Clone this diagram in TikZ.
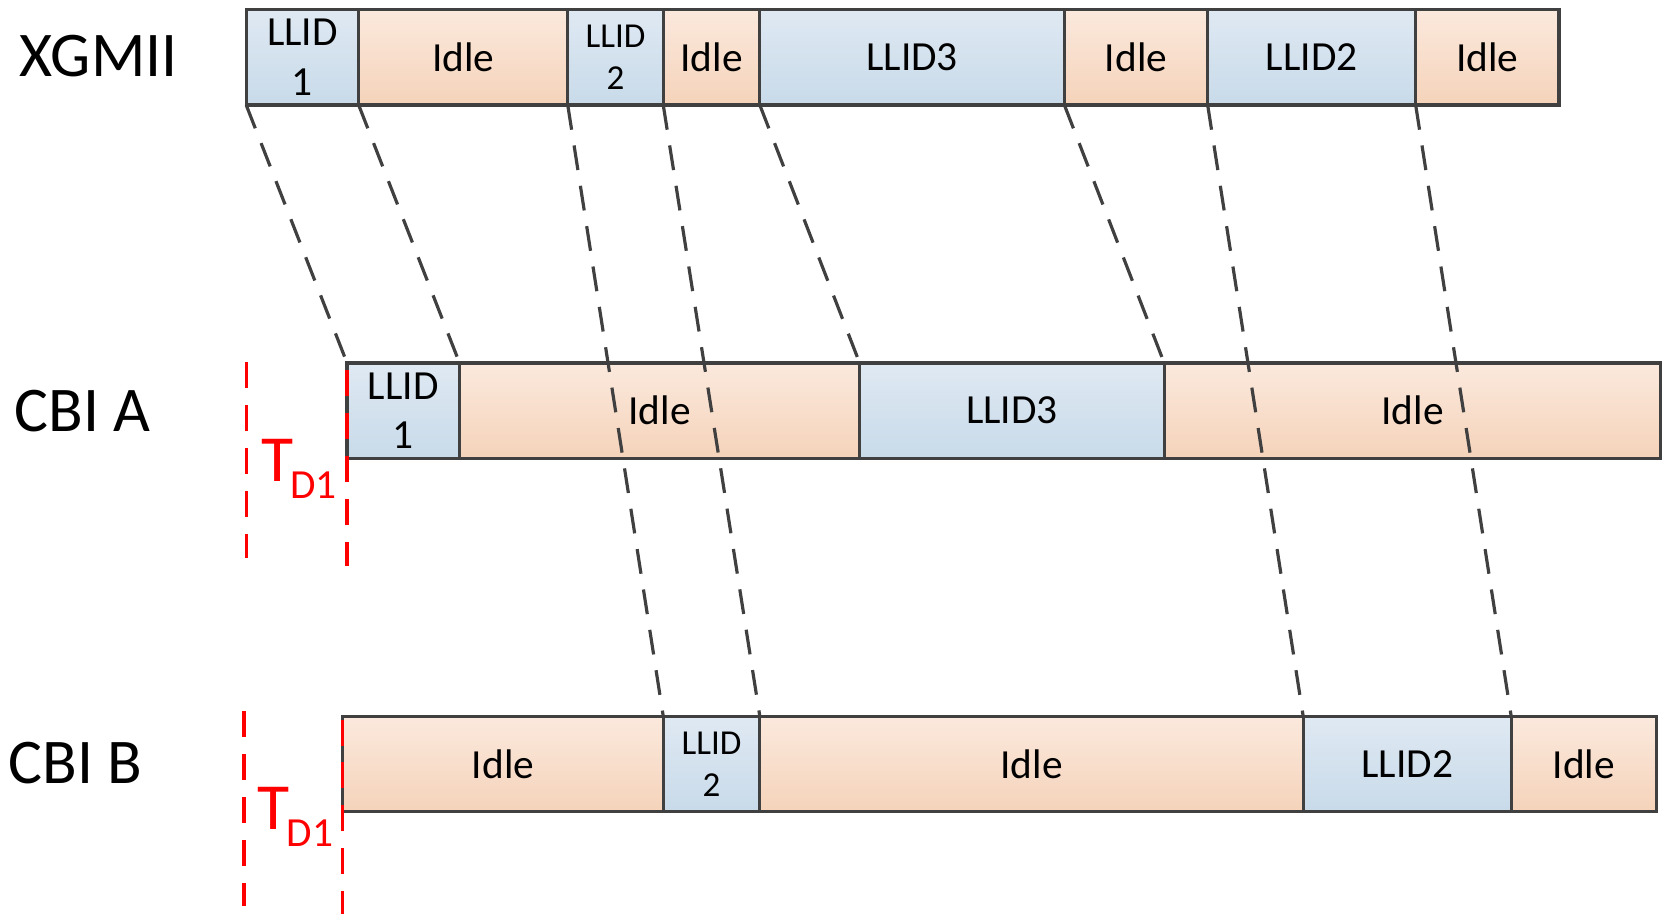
\documentclass[tikz,border=0pt]{standalone}
\usepackage{fontspec}
\setmainfont{Carlito}
\definecolor{edgegray}{HTML}{404040}
\definecolor{blueTop}{HTML}{DFE9F3}
\definecolor{blueBot}{HTML}{C8DAE9}
\definecolor{peachTop}{HTML}{FBE9DD}
\definecolor{peachBot}{HTML}{F5D3BA}
\definecolor{tdred}{HTML}{FF0000}
% one time slot: name, left x, right x, top y, bottom y, style, text
\newcommand\cellbox[7]{%
  \node[#6, minimum width={(#3-#2)*0.5pt}, minimum height={(#5-#4)*0.5pt},
        anchor=north west] (#1) at (#2,#4) {#7};}
\begin{document}
\begin{tikzpicture}[x=0.5pt,y=-0.5pt,
  frame/.style={draw=edgegray, line width=1.5pt, inner sep=0pt, outer sep=0pt,
                align=center, font=\fontsize{19.5}{23.5}\selectfont},
  llid/.style={frame, top color=blueTop, bottom color=blueBot},
  idle/.style={frame, top color=peachTop, bottom color=peachBot},
  smallllid/.style={llid, font=\fontsize{16.5}{20}\selectfont},
  rowlabel/.style={font=\fontsize{30}{36}\selectfont, inner sep=0pt},
  map/.style={draw=edgegray, line width=1.5pt, dash pattern=on 11.75pt off 7.5pt},
  delay/.style={draw=tdred, line width=1.6pt, dash pattern=on 12.25pt off 8pt},
  tmain/.style={text=tdred, font=\fontsize{31}{36}\selectfont, inner sep=0pt, anchor=base west},
  tsub/.style={text=tdred, font=\fontsize{19.5}{23}\selectfont, inner sep=0pt, anchor=base west}
]
\useasboundingbox (0,0) rectangle (1568,861);

% row labels
\node[rowlabel] (lx) at (93,53) {XGMII};
\node[rowlabel] (la) at (78,387) {CBI A};
\node[rowlabel] (lb) at (71,719) {CBI B};

% XGMII stream
\cellbox{x1}{232}{338}{9}{99}{llid}{LLID\\1}
\cellbox{x2}{338}{535}{9}{99}{idle}{Idle}
\cellbox{x3}{535}{625}{9}{99}{smallllid}{LLID\\2}
\cellbox{x4}{625}{716}{9}{99}{idle}{Idle}
\cellbox{x5}{716}{1003}{9}{99}{llid}{LLID3}
\cellbox{x6}{1003}{1138}{9}{99}{idle}{Idle}
\cellbox{x7}{1138}{1334}{9}{99}{llid}{LLID2}
\cellbox{x8}{1334}{1469}{9}{99}{idle}{Idle}

% CBI A stream
\cellbox{a1}{327}{433}{342}{432}{llid}{LLID\\1}
\cellbox{a2}{433}{810}{342}{432}{idle}{Idle}
\cellbox{a3}{810}{1097}{342}{432}{llid}{LLID3}
\cellbox{a4}{1097}{1565}{342}{432}{idle}{Idle}

% CBI B stream
\cellbox{b1}{323}{625}{675}{765}{idle}{Idle}
\cellbox{b2}{625}{716}{675}{765}{smallllid}{LLID\\2}
\cellbox{b3}{716}{1228}{675}{765}{idle}{Idle}
\cellbox{b4}{1228}{1424}{675}{765}{llid}{LLID2}
\cellbox{b5}{1424}{1561}{675}{765}{idle}{Idle}

% slot mapping
\draw[map] (x1.south west) -- (a1.north west);
\draw[map] (x1.south east) -- (a1.north east);
\draw[map] (x3.south west) -- (b2.north west);
\draw[map] (x3.south east) -- (b2.north east);
\draw[map] (x5.south west) -- (a3.north west);
\draw[map] (x5.south east) -- (a3.north east);
\draw[map] (x7.south west) -- (b4.north west);
\draw[map] (x7.south east) -- (b4.north east);

% delay markers
\coordinate (da0) at (232,341);  \coordinate (da1) at (232,526);
\coordinate (da2) at (327,349);  \coordinate (da3) at (327,533);
\coordinate (db0) at (230,670);  \coordinate (db1) at (230,854);
\coordinate (db2) at (323,678);  \coordinate (db3) at (323,861);
\draw[delay] (da0) -- (da1);
\draw[delay] (da2) -- (da3);
\draw[delay] (db0) -- (db1);
\draw[delay] (db2) -- (db3);

\node[tmain] (ta) at (246,454) {T};
\node[tsub] (tas) at (273,469.5) {D1};
\node[tmain] (tb) at (242,782) {T};
\node[tsub] (tbs) at (270,798) {D1};
\end{tikzpicture}
\end{document}
